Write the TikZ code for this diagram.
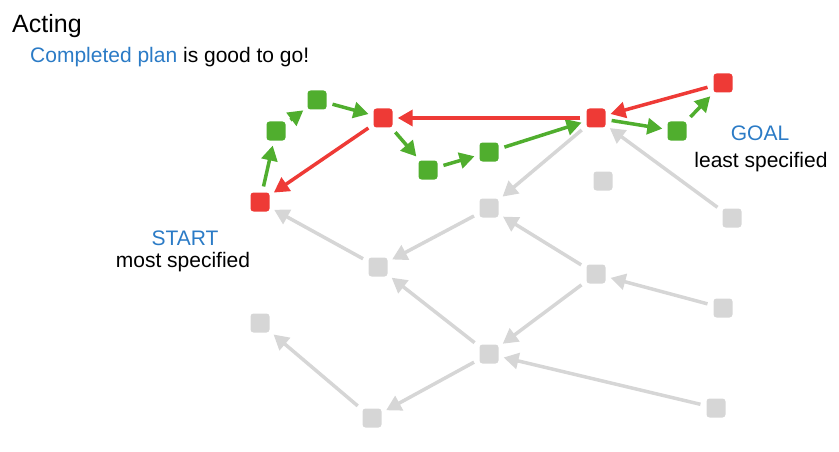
\documentclass[tikz,border=0pt]{standalone}
\usepackage{fontspec}
\setmainfont{Liberation Sans}
\usetikzlibrary{arrows.meta}
\definecolor{cred}{RGB}{238,58,54}
\definecolor{cgreen}{RGB}{80,174,46}
\definecolor{cgray}{RGB}{214,214,214}
\definecolor{cblue}{RGB}{43,123,198}
\tikzset{
  sq/.style={rectangle, rounded corners=3pt, minimum size=19pt, inner sep=0pt},
  rsq/.style={sq, fill=cred},
  gsq/.style={sq, fill=cgreen},
  ysq/.style={sq, fill=cgray},
  con/.style={line width=3.5pt, -{Triangle[length=15pt,width=16pt]}, shorten <=6pt, shorten >=5pt},
  rcon/.style={con, draw=cred},
  gcon/.style={con, draw=cgreen},
  ycon/.style={con, draw=cgray},
  lbl/.style={font=\fontsize{21}{24}\selectfont, inner sep=0pt},
}
\begin{document}
\begin{tikzpicture}[x=1pt,y=-1pt]
\useasboundingbox (0,0) rectangle (839,452);
% gray nodes
\node[ysq] (a) at (603,181) {};
\node[ysq] (b) at (489,208) {};
\node[ysq] (c) at (732,218) {};
\node[ysq] (d) at (378,267) {};
\node[ysq] (e) at (596,274) {};
\node[ysq] (f) at (723,308) {};
\node[ysq] (g) at (260,323) {};
\node[ysq] (h) at (489,354) {};
\node[ysq] (i) at (716,408) {};
\node[ysq] (j) at (372,418) {};
% path nodes
\node[rsq] (S) at (260,202) {};
\node[gsq] (g1) at (276,131) {};
\node[gsq] (g2) at (317,100) {};
\node[rsq] (R1) at (383,118) {};
\node[gsq] (g3) at (428,170) {};
\node[gsq] (g4) at (489,152) {};
\node[rsq] (R2) at (596,118) {};
\node[gsq] (g5) at (677,131) {};
\node[rsq] (R3) at (723,83) {};
% gray connectors
\draw[ycon] (R2) -- (b);
\draw[ycon] (c) -- (R2);
\draw[ycon] (b) -- (d);
\draw[ycon] (d) -- (S);
\draw[ycon] (e) -- (b);
\draw[ycon] (e) -- (h);
\draw[ycon] (f) -- (e);
\draw[ycon] (h) -- (d);
\draw[ycon] (h) -- (j);
\draw[ycon] (i) -- (h);
\draw[ycon] (j) -- (g);
% green connectors
\draw[gcon] (S) -- (g1);
\draw[gcon] (g1) -- (g2);
\draw[gcon] (g2) -- (R1);
\draw[gcon] (R1) -- (g3);
\draw[gcon] (g3) -- (g4);
\draw[gcon] (g4) -- (R2);
\draw[gcon] (R2) -- (g5);
\draw[gcon] (g5) -- (R3);
% red connectors
\draw[rcon] (R2) -- (R1);
\draw[rcon] (R1) -- (S);
\draw[rcon] (R3) -- (R2);
% texts
\node[inner sep=0pt, anchor=base west, font=\fontsize{25}{30}\selectfont] (title) at (12,33) {Acting};
\node[lbl, anchor=base west] (sub) at (30,63) {\textcolor{cblue}{Completed plan} is good to go!};
\node[lbl, anchor=base, text=cblue] (start) at (185,245) {START};
\node[lbl, anchor=base] (most) at (183,267) {most specified};
\node[lbl, anchor=base, text=cblue] (goal) at (760,140) {GOAL};
\node[lbl, anchor=base] (least) at (761,167) {least specified};
\end{tikzpicture}
\end{document}
